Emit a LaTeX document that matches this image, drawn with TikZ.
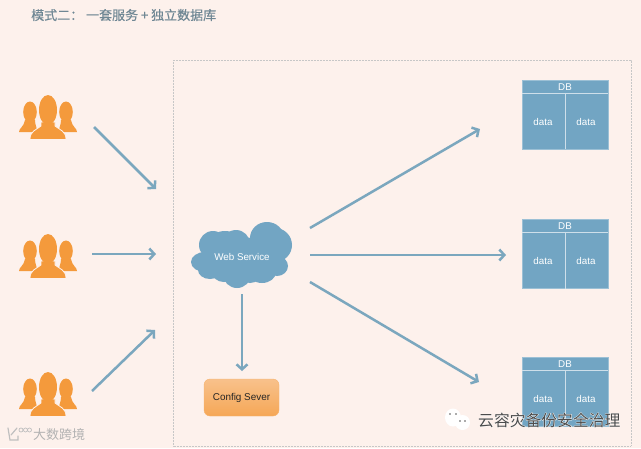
\documentclass[tikz,border=0pt]{standalone}
\usepackage{fontspec}
\setmainfont{Liberation Sans}
\newfontfamily\cjk{Noto Sans CJK SC}
\usetikzlibrary{calc,positioning,arrows.meta}
\definecolor{paper}{HTML}{FDF1EC}
\definecolor{link}{HTML}{7BA7BE}
\definecolor{store}{HTML}{72A5C3}
\definecolor{crowd}{HTML}{F49A3C}
\definecolor{heading}{HTML}{6F8794}
\tikzset{
  people/.pic={
    \fill[crowd] (-18,-5) ellipse (6.8 and 10.5);
    \fill[crowd] (18,-5) ellipse (6.8 and 10.5);
    \fill[crowd] (-29,15) .. controls (-29,11) and (-24,10) .. (-23,3) -- (-13,3) .. controls (-13,8) and (-11,10) .. (-11,15) -- cycle;
    \fill[crowd] (29,15) .. controls (29,11) and (24,10) .. (23,3) -- (13,3) .. controls (13,8) and (11,10) .. (11,15) -- cycle;
    \path[fill=crowd,draw=paper,line width=0.8pt] (-18,22.5) .. controls (-18,14) and (-12,13) .. (-7,9) -- (-7,5) -- (7,5) -- (7,9) .. controls (12,13) and (18,14) .. (18,22.5) -- cycle;
    \fill[crowd] (0,-7) ellipse (9 and 15);
  }
}
\begin{document}
\begin{tikzpicture}[x=1pt,y=-1pt,
  flow/.style={link,line width=2.5pt,-{Straight Barb[length=5pt,width=11pt,line width=2.5pt]}},
  dbbox/.style={fill=store,draw=store!70!white,line width=0.6pt,minimum width=86pt,minimum height=69pt,inner sep=0pt},
  dbtext/.style={text=white,font=\fontsize{9.8}{10}\selectfont,inner sep=0pt},
  dbline/.style={draw=white!65!store,line width=0.9pt}]
  \useasboundingbox[fill=paper] (0,0) rectangle (641,448);
  \node[text=heading,anchor=west,inner sep=0pt,font=\cjk\fontsize{13}{13}\selectfont\addfontfeature{FakeBold=0.4}] (title) at (31,15) {模式二： 一套服务 + 独立数据库};
  \draw[black!22,dash pattern=on 0.7pt off 0.8pt,line width=0.7pt] (173,60) rectangle (631,446);
  % clients
  \foreach \k/\y in {1/117,2/256,3/394} {
    \pic at (48,\y) {people};
    \node[minimum width=58pt,minimum height=45pt,inner sep=0pt] (user\k) at (48,\y) {};
  }
  % cloud lobes
  \foreach \x/\y/\a/\b in {267/238/17/16,275/245/17/17,236/244/14/14,213/245/14/14,225/240/14/9,205/262/14/10,
    210/270/12/9,224/272/12/10,237/274/14/14,250/272/12/11,262/272/14/11,277/266/11/10,240/257/34/20} {
    \fill[store] (\x,\y) ellipse (\a pt and \b pt);
  }
  \node[text=white,inner sep=0pt,font=\fontsize{9.8}{10}\selectfont] (web) at (242,257) {Web Service};
  \node[draw=crowd!75!white,rounded corners=6pt,top color=crowd!55!paper,bottom color=crowd!85!paper,
    minimum width=75pt,minimum height=37pt,inner sep=0pt,text=black!85,font=\fontsize{9.9}{10}\selectfont] (config) at (241.5,397.5) {Config Sever};
  \foreach \k/\y in {1/114.5,2/254,3/391.5} {
    \node[dbbox] (db\k) at (565,\y) {};
    \node[dbtext] (head\k) at ($(db\k.north)+(0,7)$) {DB};
    \node[dbtext] (left\k) at ($(db\k.north)+(-22,42)$) {data};
    \node[dbtext] (right\k) at ($(db\k.north)+(21,42)$) {data};
    \draw[dbline] ($(db\k.north west)+(0,13.5)$)--($(db\k.north east)+(0,13.5)$);
    \draw[dbline] ($(db\k.north)+(0,13.5)$)--(db\k.south);
  }
  % connectors
  \coordinate (a1) at (94,127);
  \coordinate (b1) at (156,189);
  \coordinate (a2) at (92,254);
  \coordinate (b2) at (156,254);
  \coordinate (a3) at (92,391);
  \coordinate (b3) at (155,330);
  \coordinate (c1) at (310,228);
  \coordinate (d1) at (480,129);
  \coordinate (c2) at (310,255);
  \coordinate (d2) at (506,255);
  \coordinate (c3) at (310,282);
  \coordinate (d3) at (479,382);
  \coordinate (e) at (242,294);
  \coordinate (f) at (242,371);
  \foreach \p/\q in {a1/b1,a2/b2,a3/b3,c1/d1,c2/d2,c3/d3,e/f} {
    \draw[flow] (\p)--(\q);
  }
  % marks laid over the picture
  \fill[white] (453,417.5) ellipse (8 and 9);
  \fill[white] (462.5,422.5) ellipse (7.5 and 7.5);
  \foreach \x/\y in {450/414,456/414,460/421,465/421} {
    \fill[black!65] (\x,\y) circle (0.9);
  }
  \node[anchor=west,inner sep=0pt,text=white,font=\cjk\fontsize{15.8}{16}\selectfont\addfontfeature{FakeBold=3}] (markhalo) at (478,420) {云容灾备份安全治理};
  \node[anchor=west,inner sep=0pt,text=black!70,font=\cjk\fontsize{15.8}{16}\selectfont] (mark) at (478,420) {云容灾备份安全治理};
  \draw[black!25,line width=1.2pt,line cap=round] (8,428)--(10,440)--(18,440)--(18,436);
  \draw[black!25,line width=1.2pt,line cap=round] (17,428)--(11,435);
  \foreach \x in {21,25.5,29.5} {
    \draw[black!25,line width=0.7pt] (\x,430) circle (2);
  }
  \node[anchor=west,inner sep=0pt,text=black!30,font=\cjk\fontsize{13}{13}\selectfont] (site) at (33,435) {大数跨境};
\end{tikzpicture}
\end{document}
